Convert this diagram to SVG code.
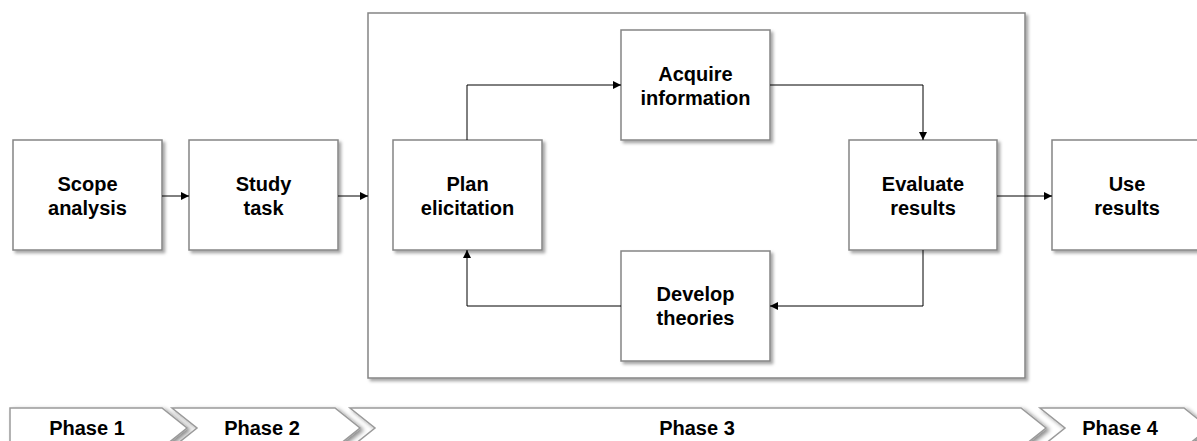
<svg xmlns="http://www.w3.org/2000/svg" width="1197" height="441" viewBox="0 0 1197 441">
  <defs>
    <filter id="shadow" x="-10%" y="-10%" width="130%" height="130%">
      <feDropShadow dx="2.5" dy="2.5" stdDeviation="1.5" flood-color="#000" flood-opacity="0.35"/>
    </filter>
    <filter id="bevel" x="-10%" y="-20%" width="130%" height="150%">
      <feDropShadow dx="3" dy="2" stdDeviation="2" flood-color="#000" flood-opacity="0.45"/>
    </filter>
    <marker id="arrow" viewBox="0 0 10 10" refX="10" refY="5" markerWidth="9" markerHeight="8" markerUnits="userSpaceOnUse" orient="auto">
      <path d="M0,0 L10,5 L0,10 Z" fill="#000"/>
    </marker>
  </defs>
  <style>
    .box { fill: #fff; stroke: #858585; stroke-width: 1.5; filter: url(#shadow); }
    .phase { fill: #fff; stroke: #9a9a9a; stroke-width: 1.5; filter: url(#bevel); }
    .label { font-family: "Liberation Sans", Arial, sans-serif; font-weight: bold; font-size: 20px; fill: #000; text-anchor: middle; }
    .conn { fill: none; stroke: #000; stroke-width: 1; marker-end: url(#arrow); }
  </style>
  <rect width="1197" height="441" fill="#fff"/>

  <!-- phase 3 container -->
  <g id="phase3-container">
    <rect class="box" x="368" y="13" width="657" height="365"/>
  </g>

  <g id="scope-analysis">
    <rect class="box" x="13" y="140" width="149" height="110"/>
    <text class="label" x="87.5" y="191">Scope</text>
    <text class="label" x="87.5" y="215">analysis</text>
  </g>
  <g id="study-task">
    <rect class="box" x="189" y="140" width="149" height="110"/>
    <text class="label" x="263.5" y="191">Study</text>
    <text class="label" x="263.5" y="215">task</text>
  </g>
  <g id="plan-elicitation">
    <rect class="box" x="393" y="140" width="149" height="110"/>
    <text class="label" x="467.5" y="191">Plan</text>
    <text class="label" x="467.5" y="215">elicitation</text>
  </g>
  <g id="acquire-information">
    <rect class="box" x="621" y="30" width="149" height="110"/>
    <text class="label" x="695.5" y="81">Acquire</text>
    <text class="label" x="695.5" y="105">information</text>
  </g>
  <g id="evaluate-results">
    <rect class="box" x="849" y="140" width="148" height="110"/>
    <text class="label" x="923" y="191">Evaluate</text>
    <text class="label" x="923" y="215">results</text>
  </g>
  <g id="develop-theories">
    <rect class="box" x="621" y="251" width="149" height="110"/>
    <text class="label" x="695.5" y="301">Develop</text>
    <text class="label" x="695.5" y="325">theories</text>
  </g>
  <g id="use-results">
    <rect class="box" x="1052" y="140" width="150" height="110"/>
    <text class="label" x="1127" y="191">Use</text>
    <text class="label" x="1127" y="215">results</text>
  </g>

  <g id="connectors">
    <path class="conn" d="M162,196 H189"/>
    <path class="conn" d="M338,196 H368"/>
    <path class="conn" d="M467,140 V85 H621"/>
    <path class="conn" d="M770,85 H923 V140"/>
    <path class="conn" d="M923,250 V306 H770"/>
    <path class="conn" d="M621,306 H467 V250"/>
    <path class="conn" d="M997,196 H1052"/>
  </g>

  <!-- phase ribbon -->
  <g id="phase-1">
    <path class="phase" d="M10,408 H162 L187,428 L162,448 H10 Z"/>
    <text class="label" x="87" y="435">Phase 1</text>
  </g>
  <g id="phase-2">
    <path class="phase" d="M172,408 H335 L360,428 L335,448 H172 L197,428 Z"/>
    <text class="label" x="262" y="435">Phase 2</text>
  </g>
  <g id="phase-3">
    <path class="phase" d="M350,408 H1021 L1046,428 L1021,448 H350 L375,428 Z"/>
    <text class="label" x="697" y="435">Phase 3</text>
  </g>
  <g id="phase-4">
    <path class="phase" d="M1040,408 H1184 L1209,428 L1184,448 H1040 L1065,428 Z"/>
    <text class="label" x="1120" y="435">Phase 4</text>
  </g>
</svg>
